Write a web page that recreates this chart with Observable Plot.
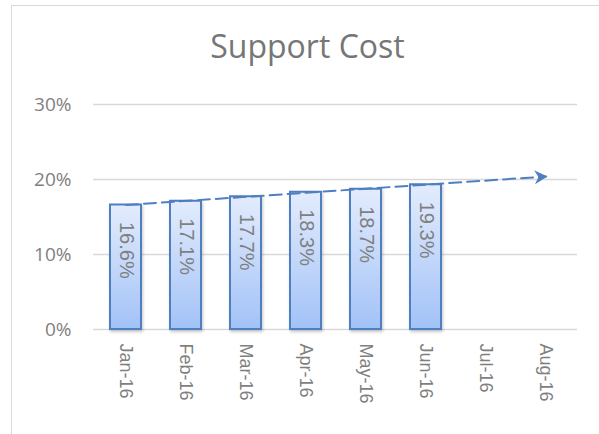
<!DOCTYPE html>
<html>
<head>
<meta charset="utf-8">
<script src="https://cdn.jsdelivr.net/npm/d3@7"></script>
<script src="https://cdn.jsdelivr.net/npm/@observablehq/plot@0.6"></script>
<style>
  html, body { margin: 0; padding: 0; background: #fff; }
  #wrap { position: relative; width: 599px; height: 434px; overflow: hidden; }
  #frame { position: absolute; left: 11px; top: 5px; width: 620px; height: 460px; border: 1.5px solid #d9d9d9; box-sizing: border-box; }
  #title { position: absolute; left: 0; width: 615px; top: 30px; text-align: center; font: 32px "Open Sans", sans-serif; line-height: 32px; color: #767676; }
  #chart { position: absolute; left: 0; top: 0; }
</style>
</head>
<body>
<div id="wrap">
  <div id="frame"></div>
  <div id="chart"></div>
  <div id="title">Support Cost</div>
</div>
<script>
const months = ["Jan-16", "Feb-16", "Mar-16", "Apr-16", "May-16", "Jun-16", "Jul-16", "Aug-16"];
const barMonths = ["Jan-16", "Feb-16", "Mar-16", "Apr-16", "May-16", "Jun-16"];
const supportCost = [0.166, 0.171, 0.177, 0.183, 0.187, 0.193];
const trendMonths = ["Jan-16", "Aug-16"];
const trendValues = [0.166, 0.204];
const yTicks = [0, 0.1, 0.2, 0.3];

const bars = barMonths.map((m, i) => ({month: m, value: supportCost[i]}));
const trend = trendMonths.map((m, i) => ({month: m, value: trendValues[i]}));
const trendEnd = [trend[trend.length - 1]];

const stealth = {
  draw(context) {
    context.moveTo(1.5, 0);
    context.lineTo(-11.5, -7);
    context.lineTo(-7.5, 0);
    context.lineTo(-11.5, 7);
    context.closePath();
  }
};

const blue = "#4e7fc0";
const gray = "#7f7f7f";

const chart = Plot.plot({
  width: 599,
  height: 434,
  marginLeft: 93,
  marginRight: 22,
  marginTop: 104,
  marginBottom: 105,
  style: {background: "transparent", overflow: "visible"},
  x: {type: "band", domain: months, paddingInner: 0.49, paddingOuter: 0.245, label: null},
  y: {domain: [0, 0.3], label: null},
  marks: [
    Plot.ruleY(yTicks, {stroke: "#d9d9d9", strokeWidth: 1.5}),
    Plot.axisY({ticks: yTicks, tickFormat: d3.format(".0%"), tickSize: 0, tickPadding: 22,
      fontSize: 19, fontFamily: "Open Sans", fill: gray, label: null}),
    Plot.axisX({tickRotate: 90, tickSize: 0, tickPadding: 14, fontSize: 18,
      fontFamily: "Liberation Sans", fill: gray, label: null}),
    Plot.barY(bars, {x: "month", y: "value", fill: "url(#barGrad)", stroke: blue, strokeWidth: 2}),
    Plot.text(bars, {x: "month", y: "value", text: d => d3.format(".1%")(d.value), rotate: 90,
      textAnchor: "start", dy: 17, fontSize: 20, fontFamily: "Liberation Sans", fill: gray}),
    Plot.line(trend, {x: "month", y: "value", stroke: blue, strokeWidth: 2, strokeDasharray: "12,6"}),
    Plot.dot(trendEnd, {x: "month", y: "value", symbol: stealth, r: 6, fill: blue, stroke: "none", rotate: -3.9})
  ]
});

const svg = d3.select(chart);
const defs = svg.insert("defs", ":first-child");
const grad = defs.append("linearGradient").attr("id", "barGrad")
  .attr("x1", 0).attr("y1", 0).attr("x2", 0).attr("y2", 1);
grad.append("stop").attr("offset", "0%").attr("stop-color", "#e3ecfd");
grad.append("stop").attr("offset", "100%").attr("stop-color", "#a2c2f7");
svg.selectAll('g[aria-label="bar"]').style("filter", "drop-shadow(1.5px 2px 1.5px rgba(0,0,0,0.22))");

document.getElementById("chart").appendChild(chart);
</script>
</body>
</html>
